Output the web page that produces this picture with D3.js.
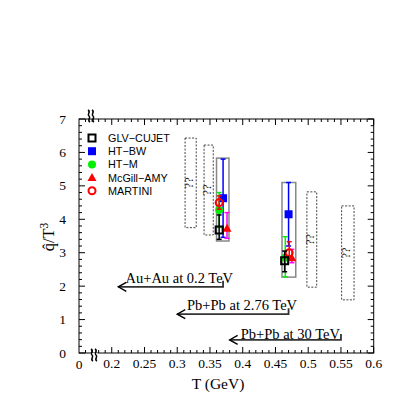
<!DOCTYPE html>
<html><head><meta charset="utf-8">
<script src="https://cdn.jsdelivr.net/npm/d3@7"></script>
<style>
html,body{margin:0;padding:0;background:#fff;}
svg{display:block;}
text{font-family:"Liberation Serif","Times New Roman",serif;}
.sans{font-family:"Liberation Sans",Arial,sans-serif;}
</style></head>
<body>
<svg id="c" width="394" height="394"></svg>
<script>
// ---- data ----
const models = ["GLV\u2212CUJET","HT\u2212BW","HT\u2212M","McGill\u2212AMY","MARTINI"];
// RHIC (Au+Au 0.2 TeV)
const rhicT  = [0.364, 0.370, 0.364, 0.376, 0.364];
const rhicQ  = [3.68, 4.63, 4.28, 3.73, 4.50];
const rhicLo = [3.40, 3.46, 3.76, 3.43, 4.30];
const rhicHi = [4.13, 5.80, 4.80, 4.20, 4.70];
// LHC (Pb+Pb 2.76 TeV)
const lhcT  = [0.464, 0.470, 0.465, 0.475, 0.471];
const lhcQ  = [2.76, 4.15, 2.85, 2.85, 3.00];
const lhcLo = [2.43, 3.20, 2.28, 2.70, 2.80];
const lhcHi = [3.05, 5.10, 3.48, 3.10, 3.33];
// dashed "??" boxes
const qBoxT0 = [0.312, 0.341, 0.498, 0.551];
const qBoxT1 = [0.329, 0.355, 0.513, 0.570];
const qBoxLo = [3.75, 3.53, 1.97, 1.59];
const qBoxHi = [6.43, 6.22, 4.82, 4.40];
// grey solid boxes around model points
const gBoxT0 = [0.360, 0.460];
const gBoxT1 = [0.379, 0.481];
const gBoxLo = [3.35, 2.27];
const gBoxHi = [5.83, 5.10];
// arrows
const arrowLabels = ["Au+Au at 0.2 TeV","Pb+Pb at 2.76 TeV","Pb+Pb at 30 TeV"];
const arrowTip = [0.21, 0.30, 0.38];
const arrowEnd = [0.37, 0.47, 0.55];
const arrowQ   = [1.98, 1.16, 0.39];
const labelT   = [0.221, 0.315, 0.397];
const labelQ   = [2.09, 1.29, 0.42];
// ticks
const xTicks = [0.2,0.25,0.3,0.35,0.4,0.45,0.5,0.55,0.6];
const xTickLabels = ["0.2","0.25","0.3","0.35","0.4","0.45","0.5","0.55","0.6"];
const yTicks = [0,1,2,3,4,5,6,7];

// ---- style ----
const errColors = ["#000000","#0000ff","#00ee00","#ff00ff","#ff0000"];

const svg = d3.select("#c");
const x = d3.scaleLinear().domain([0.15,0.6]).range([79,373.7]);
const y = d3.scaleLinear().domain([0,7]).range([353,119]);
const X0=79, X1=373.7, Y0=353, Y1=119;

// frame
svg.append("rect").attr("x",X0).attr("y",Y1).attr("width",X1-X0).attr("height",Y0-Y1)
  .attr("fill","none").attr("stroke","#000").attr("stroke-width",1);

// ticks
const minorX = d3.range(16,61).map(d=>d/100);
const minorY = d3.range(0,36).map(d=>d/5);
const tg = svg.append("g").attr("stroke","#000").attr("stroke-width",1);
minorX.forEach(t=>{
  const major = Math.abs(t*20-Math.round(t*20))<1e-6;
  const L = major?6:3;
  tg.append("line").attr("x1",x(t)).attr("x2",x(t)).attr("y1",Y0).attr("y2",Y0-L);
  tg.append("line").attr("x1",x(t)).attr("x2",x(t)).attr("y1",Y1).attr("y2",Y1+L);
});
minorY.forEach(v=>{
  const major = Math.abs(v-Math.round(v))<1e-6;
  const L = major?6:3;
  tg.append("line").attr("x1",X0).attr("x2",X0+L).attr("y1",y(v)).attr("y2",y(v));
  tg.append("line").attr("x1",X1).attr("x2",X1-L).attr("y1",y(v)).attr("y2",y(v));
});

// tick labels
xTicks.forEach((t,i)=>{
  svg.append("text").attr("x",x(t)).attr("y",368).attr("text-anchor","middle")
    .attr("font-size",13.5).text(xTickLabels[i]);
});
svg.append("text").attr("x",X0).attr("y",369).attr("text-anchor","middle").attr("font-size",13.5).text("0");
yTicks.forEach(v=>{
  svg.append("text").attr("x",66).attr("y",y(v)+4.5).attr("text-anchor","end")
    .attr("font-size",13.5).text(v);
});

// axis break marks
function brk(cx, cy){
  const g = svg.append("g");
  g.append("rect").attr("x",cx-3.5).attr("y",cy-2).attr("width",7).attr("height",4).attr("fill","#fff");
  [-2,2].forEach(o=>{
    const xx=cx+o;
    g.append("path").attr("d",`M${xx-1},${cy-6} C${xx+2.5},${cy-4} ${xx-2.5},${cy-2} ${xx},${cy} C${xx+2.5},${cy+2} ${xx-2.5},${cy+4} ${xx+1},${cy+6}`)
      .attr("fill","none").attr("stroke","#000").attr("stroke-width",1.5);
  });
}
brk(91,116);
brk(94,355);

// axis titles
svg.append("text").attr("x",218).attr("y",389).attr("text-anchor","middle").attr("font-size",15.5).text("T (GeV)");
const yt = svg.append("text").attr("transform","translate(54,237) rotate(-90)").attr("text-anchor","middle").attr("font-size",16.5);
yt.append("tspan").text("q\u0302/T");
yt.append("tspan").attr("dy",-6).attr("font-size",11.5).text("3");

// dashed boxes
qBoxT0.forEach((t0,i)=>{
  svg.append("rect").attr("x",x(t0)).attr("y",y(qBoxHi[i]))
    .attr("width",x(qBoxT1[i])-x(t0)).attr("height",y(qBoxLo[i])-y(qBoxHi[i]))
    .attr("fill","none").attr("stroke","#444").attr("stroke-width",1).attr("stroke-dasharray","2,1.5");
  const cx=(x(t0)+x(qBoxT1[i]))/2, cy=(y(qBoxHi[i])+y(qBoxLo[i]))/2;
  svg.append("text").attr("transform",`translate(${cx+2},${cy}) rotate(-90)`)
    .attr("text-anchor","middle").attr("font-size",12.5).attr("fill","#111").text("??");
});

// grey boxes
gBoxT0.forEach((t0,i)=>{
  svg.append("rect").attr("x",x(t0)).attr("y",y(gBoxHi[i]))
    .attr("width",x(gBoxT1[i])-x(t0)).attr("height",y(gBoxLo[i])-y(gBoxHi[i]))
    .attr("fill","none").attr("stroke","#888").attr("stroke-width",1.5);
});

// markers
function marker(g, k, cx, cy, s){
  if(k===0) g.append("rect").attr("x",cx-s/2+1).attr("y",cy-s/2+1).attr("width",s-2).attr("height",s-2)
      .attr("fill","none").attr("stroke","#000").attr("stroke-width",2);
  else if(k===1) g.append("rect").attr("x",cx-s/2+0.5).attr("y",cy-s/2+0.5).attr("width",s-1).attr("height",s-1).attr("fill","#0000ff");
  else if(k===2) g.append("circle").attr("cx",cx).attr("cy",cy).attr("r",s/2-0.5).attr("fill","#00ee00");
  else if(k===3) g.append("path").attr("d",`M${cx},${cy-s/2} L${cx+s/2},${cy+s/2-1} L${cx-s/2},${cy+s/2-1}Z`).attr("fill","#ff0000");
  else g.append("circle").attr("cx",cx).attr("cy",cy).attr("r",s/2-1).attr("fill","none").attr("stroke","#ff0000").attr("stroke-width",2);
}
const order = [1,2,3,4,0];
function drawSet(T,Q,Lo,Hi){
  const g = svg.append("g");
  order.forEach(k=>{
    const cx=x(T[k]);
    g.append("line").attr("x1",cx).attr("x2",cx).attr("y1",y(Lo[k])).attr("y2",y(Hi[k]))
      .attr("stroke",errColors[k]).attr("stroke-width",1.5);
    [Lo[k],Hi[k]].forEach(v=>g.append("line").attr("x1",cx-2.5).attr("x2",cx+2.5).attr("y1",y(v)).attr("y2",y(v))
      .attr("stroke",errColors[k]).attr("stroke-width",1.5));
    marker(g,k,cx,y(Q[k]),9);
  });
}
drawSet(rhicT,rhicQ,rhicLo,rhicHi);
drawSet(lhcT,lhcQ,lhcLo,lhcHi);

// legend
const lg = svg.append("g");
models.forEach((m,i)=>{
  const ly = 138 + i*13.2;
  marker(lg,i,92,ly,9);
  lg.append("text").attr("class","sans").attr("x",108).attr("y",ly+4).attr("font-size",10.8).text(m);
});

// arrows
arrowLabels.forEach((lab,i)=>{
  const ay=y(arrowQ[i]), xt=x(arrowTip[i]), xe=x(arrowEnd[i]);
  const g=svg.append("g").attr("stroke","#333").attr("fill","none").attr("stroke-width",1.8);
  g.append("path").attr("d",`M${xt},${ay} L${xe},${ay} L${xe},${ay-6}`);
  g.append("path").attr("d",`M${xt+8},${ay-4.5} L${xt},${ay} L${xt+8},${ay+4.5}`).attr("stroke","#000").attr("stroke-width",1.4);
  svg.append("text").attr("x",x(labelT[i])).attr("y",y(labelQ[i])).attr("font-size",14.5).text(lab);
});
</script>
</body></html>
